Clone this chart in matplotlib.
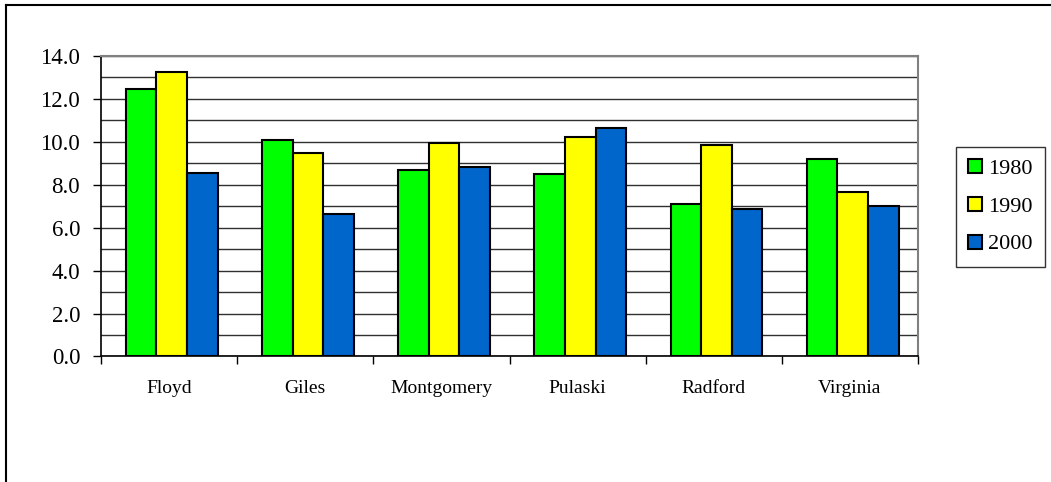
import matplotlib
matplotlib.use('Agg')
import matplotlib.pyplot as plt
import numpy as np
from matplotlib.lines import Line2D

counties = ['Floyd', 'Giles', 'Montgomery', 'Pulaski', 'Radford', 'Virginia']
years = ['1980', '1990', '2000']
v1980 = [12.45, 10.06, 8.70, 8.51, 7.09, 9.21]
v1990 = [13.22, 9.47, 9.94, 10.23, 9.84, 7.66]
v2000 = [8.53, 6.62, 8.81, 10.64, 6.88, 7.01]
colors = ['#00FF00', '#FFFF00', '#0066CC']

plt.rcParams['font.family'] = ['Liberation Serif', 'DejaVu Serif']

fig = plt.figure(figsize=(10.51, 4.82), dpi=100)
ax = fig.add_axes([0.0961, 0.2604, 0.8735 - 0.0961, 0.8844 - 0.2604])

x = np.arange(len(counties))
w = 0.225
for i, (vals, c, lab) in enumerate(zip([v1980, v1990, v2000], colors, years)):
    ax.bar(x + (i - 1) * w + 0.02, vals, w, color=c, edgecolor='black',
           linewidth=1.5, label=lab, zorder=3)

ax.set_xlim(-0.5, len(counties) - 0.5)
ax.set_ylim(0, 14)
ax.set_yticks(np.arange(0, 14.1, 2))
ax.set_yticklabels(['%.1f' % v for v in np.arange(0, 14.1, 2)], fontsize=16.5)
ax.set_yticks(np.arange(1, 14, 2), minor=True)
ax.yaxis.grid(True, which='both', color='#303030', linewidth=1, zorder=0)
ax.tick_params(axis='y', which='major', direction='out', length=6, width=1, pad=9)
ax.tick_params(axis='y', which='minor', length=0)

ax.set_xticks(x)
ax.set_xticklabels(counties, fontsize=14)
ax.set_xticks(np.arange(-0.5, len(counties), 1), minor=True)
ax.tick_params(axis='x', which='major', length=0, pad=17)
ax.tick_params(axis='x', which='minor', direction='out', length=6, width=1)

for s in ['top', 'right']:
    ax.spines[s].set_color('#808080')
    ax.spines[s].set_linewidth(1.5)
for s in ['left', 'bottom']:
    ax.spines[s].set_color('black')
    ax.spines[s].set_linewidth(1.2)

leg = fig.legend(loc='upper left', bbox_to_anchor=(0.9096, 0.695), fontsize=16,
                 frameon=True, fancybox=False, edgecolor='black',
                 handlelength=0.6, handleheight=0.6, handletextpad=0.3,
                 labelspacing=0.8, borderpad=0.55, borderaxespad=0)
leg.get_frame().set_linewidth(1)

# outer border (top and left only)
fig.add_artist(Line2D([5.5 / 1051, 1], [1 - 4.5 / 482, 1 - 4.5 / 482],
                      transform=fig.transFigure, color='black', linewidth=1.5))
fig.add_artist(Line2D([5.5 / 1051, 5.5 / 1051], [0, 1 - 4.5 / 482],
                      transform=fig.transFigure, color='black', linewidth=1.5))

fig.savefig('out.png', dpi=100)
